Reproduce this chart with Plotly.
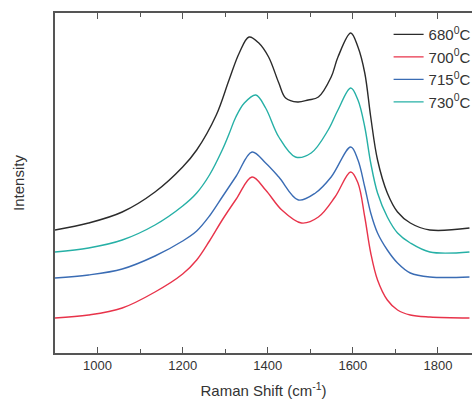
import plotly.graph_objects as go

# Raman spectra (arbitrary intensity units, curves offset)
shift_680 = [900, 979, 1058, 1135, 1200, 1233, 1279, 1309, 1333, 1356, 1379, 1402, 1426,
             1442, 1470, 1495, 1519, 1549, 1565, 1595, 1612, 1628, 1642, 1658, 1681, 1705,
             1735, 1781, 1874]
int_680 = [123, 130, 141, 161, 186, 203, 238, 273, 300, 316, 310, 296, 270,
           255, 251, 253, 256, 276, 296, 320, 306, 280, 236, 193, 160, 141,
           130, 123, 125]

shift_730 = [900, 979, 1058, 1135, 1200, 1233, 1263, 1293, 1309, 1325, 1345, 1372, 1395,
             1426, 1465, 1502, 1542, 1565, 1595, 1612, 1628, 1642, 1658, 1681, 1705,
             1735, 1781, 1874]
int_730 = [101, 105, 113, 128, 147, 160, 178, 203, 219, 236, 250, 258, 245,
           216, 196, 200, 223, 243, 265, 253, 226, 190, 160, 136, 120,
           110, 101, 101]

shift_715 = [900, 979, 1058, 1135, 1200, 1233, 1263, 1293, 1326, 1363, 1395, 1426, 1472,
             1512, 1549, 1595, 1612, 1628, 1642, 1658, 1681, 1705, 1735, 1781, 1874]
int_715 = [75, 78, 84, 97, 112, 122, 137, 156, 177, 201, 190, 176, 153,
           160, 176, 206, 193, 166, 140, 120, 103, 90, 80, 76, 76]

shift_700 = [900, 979, 1058, 1135, 1200, 1233, 1263, 1293, 1326, 1363, 1395, 1433, 1479,
             1519, 1558, 1595, 1612, 1628, 1642, 1658, 1681, 1705, 1735, 1781, 1874]
int_700 = [35, 38, 45, 61, 79, 93, 112, 133, 154, 176, 163, 143, 130,
           136, 156, 181, 170, 136, 100, 73, 53, 43, 38, 36, 35]

labels = ['680<sup>0</sup>C', '700<sup>0</sup>C', '715<sup>0</sup>C', '730<sup>0</sup>C']
colors = ['#2b2b2b', '#e8334a', '#3a6cb4', '#26b0a6']

fig = go.Figure()
series = [(shift_680, int_680), (shift_700, int_700), (shift_715, int_715), (shift_730, int_730)]
for (xs, ys), name, c in zip(series, labels, colors):
    fig.add_trace(go.Scatter(x=xs, y=ys, mode='lines', name=name,
                             line=dict(color=c, width=1.4, shape='spline', smoothing=1.0)))

fig.update_layout(
    width=476, height=402,
    margin=dict(l=55, r=0, t=13, b=49),
    plot_bgcolor='white', paper_bgcolor='white',
    font=dict(family='Liberation Sans, Arial', size=13, color='#333'),
    showlegend=True,
    legend=dict(x=0.80, y=0.985, xanchor='left', yanchor='top',
                bgcolor='rgba(0,0,0,0)', font=dict(size=15, color='#333'),
                itemwidth=30),
)
fig.update_xaxes(
    range=[900, 1880], showgrid=False, zeroline=False,
    showline=True, linecolor='#555', linewidth=1.5, mirror='ticks',
    ticks='inside', ticklen=6, tickwidth=1.2, tickcolor='#555',
    tickvals=[1000, 1200, 1400, 1600, 1800],
    minor=dict(ticks='inside', ticklen=4, tickcolor='#555', dtick=100, tick0=900),
    title=dict(text='Raman Shift (cm<sup>-1</sup>)', font=dict(size=15), standoff=13),
)
fig.update_yaxes(
    range=[0, 340], showgrid=False, zeroline=False,
    showline=True, linecolor='#555', linewidth=1.5,
    showticklabels=False, ticks='',
    title=dict(text='Intensity', font=dict(size=15), standoff=25),
)

fig.write_html("out.html", config={'displayModeBar': False},
               post_script="document.body.style.margin='0';document.body.style.overflow='hidden';")
